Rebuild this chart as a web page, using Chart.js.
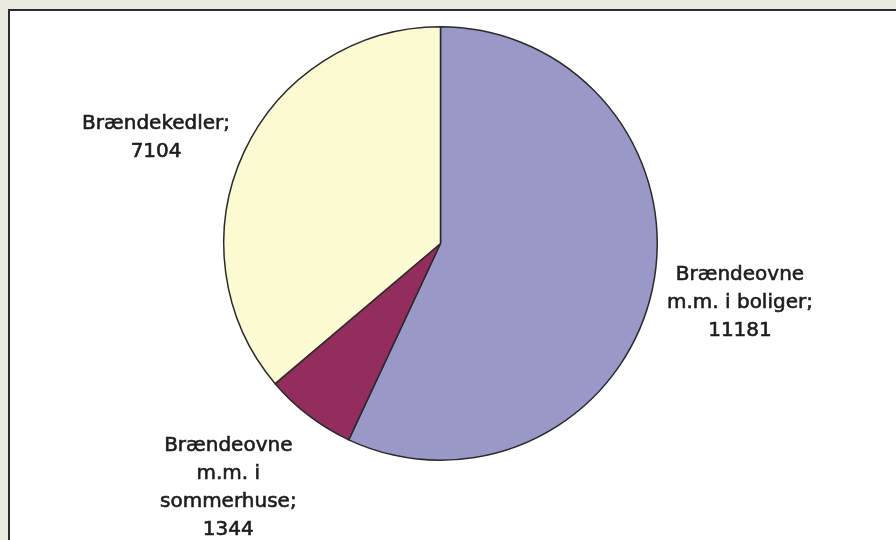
<!DOCTYPE html>
<html>
<head>
<meta charset="utf-8">
<script src="https://cdn.jsdelivr.net/npm/chart.js@4.4.1/dist/chart.umd.min.js"></script>
<style>
  html, body { margin: 0; padding: 0; }
  body { width: 896px; height: 540px; background: #ebe9df; position: relative; overflow: hidden; }
  #panel {
    position: absolute; left: 8px; top: 9px; width: 900px; height: 540px;
    background: #fff; border-left: 2px solid #2b2b2b; border-top: 2px solid #2b2b2b;
  }
  #wrap { position: absolute; left: 0; top: 0; width: 896px; height: 540px; }
</style>
</head>
<body>
<div id="panel"></div>
<div id="wrap"><canvas id="pie"></canvas></div>
<script>
const categories = [
    ['Brændeovne', 'm.m. i boliger;'],
    ['Brændeovne', 'm.m. i', 'sommerhuse;'],
    ['Brændekedler;']
];
const values = [11181, 1344, 7104];
const colors = ['#9a97c9', '#922d5e', '#fcfad2'];

// extra nudge for each label after it is pushed out from its slice
const labelShift = [[2, 0], [-30, 16], [-7, 3]];

// writes "label; value" outside each slice, pushed out along the slice's middle angle
const outsideLabels = {
    id: 'outsideLabels',
    afterDatasetsDraw(chart) {
        const ctx = chart.ctx;
        const meta = chart.getDatasetMeta(0);
        const lineH = 28;
        const gap = 15;
        ctx.save();
        ctx.font = '20px "DejaVu Sans"';
        ctx.fillStyle = '#1c1c1c';
        ctx.strokeStyle = '#1c1c1c';
        ctx.lineWidth = 0.6;
        ctx.textAlign = 'center';
        ctx.textBaseline = 'middle';
        meta.data.forEach((arc, i) => {
            const p = arc.getProps(['x', 'y', 'startAngle', 'endAngle', 'outerRadius'], true);
            const mid = (p.startAngle + p.endAngle) / 2;
            const dx = Math.cos(mid), dy = Math.sin(mid);
            const lines = categories[i].concat([String(values[i])]);
            const w = Math.max(...lines.map(t => ctx.measureText(t).width));
            const h = lines.length * lineH;
            const ax = p.x + (p.outerRadius + gap) * dx;
            const ay = p.y + (p.outerRadius + gap) * dy;
            const cx = ax + dx * w / 2 + labelShift[i][0];
            const cy = ay + dy * h / 2 + labelShift[i][1];
            lines.forEach((t, k) => {
                const ty = cy - h / 2 + lineH * (k + 0.5);
                ctx.fillText(t, cx, ty);
                ctx.strokeText(t, cx, ty);
            });
        });
        ctx.restore();
    }
};

new Chart(document.getElementById('pie'), {
    type: 'pie',
    data: {
        labels: categories.map(c => c.join(' ')),
        datasets: [{
            data: values,
            backgroundColor: colors,
            borderColor: '#2a2a2a',
            borderWidth: 1.5
        }]
    },
    options: {
        responsive: true,
        maintainAspectRatio: false,
        animation: false,
        layout: { padding: { top: 26, bottom: 79, left: 0, right: 15 } },
        plugins: {
            legend: { display: false },
            tooltip: { enabled: false }
        }
    },
    plugins: [outsideLabels]
});
</script>
</body>
</html>
